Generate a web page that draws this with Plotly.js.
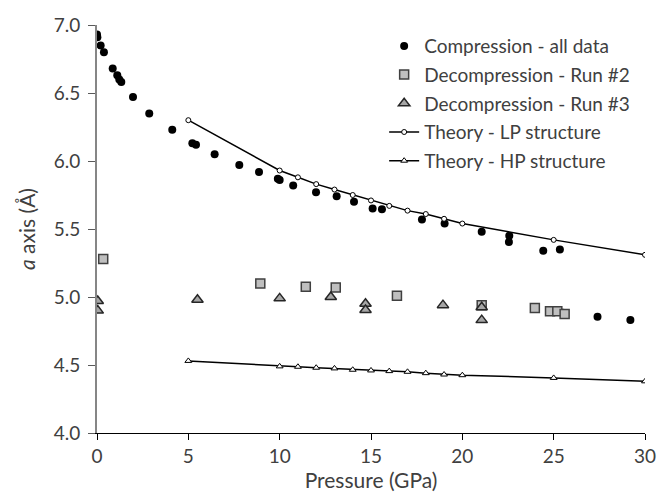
<!DOCTYPE html>
<html>
<head>
<meta charset="utf-8">
<script src="https://cdn.plot.ly/plotly-3.0.1.min.js"></script>
<style>html,body{margin:0;padding:0;background:#fff;}#chart{width:659px;height:497px;}</style>
</head>
<body>
<div id="chart"></div>
<script>
// Compression - all data
const compP = [0.0, 0.02, 0.2, 0.38, 0.86, 1.11, 1.22, 1.33, 1.97, 2.86, 4.12, 5.22, 5.42, 6.44, 7.79, 8.87, 9.9, 10.0, 10.74, 11.99, 13.12, 14.07, 15.09, 15.6, 17.79, 19.03, 21.06, 22.57, 22.55, 24.43, 25.34, 25.5, 27.4, 29.2];
const compA = [6.93, 6.91, 6.85, 6.80, 6.68, 6.63, 6.60, 6.58, 6.47, 6.35, 6.23, 6.13, 6.12, 6.05, 5.97, 5.92, 5.87, 5.86, 5.82, 5.77, 5.74, 5.70, 5.65, 5.645, 5.57, 5.54, 5.48, 5.45, 5.405, 5.34, 5.35, 4.885, 4.855, 4.83];
// Decompression - Run #2
const dec2P = [0.34, 8.94, 11.43, 13.07, 16.42, 21.06, 23.97, 24.8, 25.2, 25.6];
const dec2A = [5.28, 5.10, 5.076, 5.07, 5.01, 4.94, 4.92, 4.895, 4.895, 4.875];
// Decompression - Run #3
const dec3P = [0.04, 0.04, 5.5, 10.0, 12.8, 14.7, 14.7, 18.94, 21.06, 21.06];
const dec3A = [4.97, 4.90, 4.98, 4.99, 5.00, 4.95, 4.905, 4.94, 4.925, 4.83];
// Theory - LP structure
const lpP = [5, 10, 11, 12, 13, 14, 15, 16, 17, 18, 19, 20, 25, 30];
const lpA = [6.30, 5.93, 5.88, 5.83, 5.79, 5.75, 5.71, 5.67, 5.635, 5.61, 5.575, 5.54, 5.42, 5.31];
// Theory - HP structure
const hpP = [5, 10, 11, 12, 13, 14, 15, 16, 17, 18, 19, 20, 25, 30];
const hpA = [4.53, 4.49, 4.487, 4.48, 4.475, 4.465, 4.46, 4.455, 4.45, 4.44, 4.43, 4.425, 4.405, 4.38];

const FONT = 'Lato, "Liberation Sans", sans-serif';
const TXT = '#404040';

const traces = [
  {x: compP, y: compA, name: 'Compression - all data', type: 'scatter', mode: 'markers',
   marker: {symbol: 'circle', size: 8, color: '#000'}, legendgroup: 'a'},
  {x: dec2P, y: dec2A, name: 'Decompression - Run #2', type: 'scatter', mode: 'markers',
   marker: {symbol: 'square', size: 9, color: '#bfbfbf', line: {color: '#404040', width: 1.5}}, legendgroup: 'b'},
  {x: dec3P, y: dec3A, name: 'Decompression - Run #3', type: 'scatter', mode: 'markers',
   marker: {symbol: 'triangle-up', size: 10, color: '#a6a6a6', line: {color: '#262626', width: 1.5}}, legendgroup: 'c'},
  {x: lpP, y: lpA, name: 'Theory - LP structure', type: 'scatter', mode: 'lines+markers',
   line: {color: '#000', width: 1.5},
   marker: {symbol: 'circle', size: 5, color: '#fff', line: {color: '#000', width: 1}}, legendgroup: 'd'},
  {x: hpP, y: hpA, name: 'Theory - HP structure', type: 'scatter', mode: 'lines+markers',
   line: {color: '#000', width: 1.5},
   marker: {symbol: 'triangle-up', size: 6, color: '#fff', line: {color: '#000', width: 1}}, legendgroup: 'e'}
];

const layout = {
  width: 659, height: 497,
  margin: {l: 97, r: 14, t: 25, b: 64},
  paper_bgcolor: '#fff', plot_bgcolor: '#fff',
  font: {family: FONT, color: TXT, size: 19},
  showlegend: true,
  legend: {x: 0.524, y: 0.995, xanchor: 'left', yanchor: 'top', bgcolor: 'rgba(0,0,0,0)',
           font: {size: 19, color: TXT, family: FONT}, traceorder: 'grouped', tracegroupgap: 1, itemwidth: 30},
  xaxis: {range: [0, 30], dtick: 5, tick0: 0, showgrid: false, zeroline: false,
          showline: true, linecolor: '#000', linewidth: 1,
          ticks: 'outside', ticklen: 6, tickcolor: '#000',
          tickfont: {size: 19, color: TXT},
          title: {text: 'Pressure (GPa)', font: {size: 21, color: TXT}, standoff: 6}},
  yaxis: {range: [4, 7], dtick: 0.5, tick0: 4, tickformat: '.1f', showgrid: false, zeroline: false,
          showline: true, linecolor: '#868686', linewidth: 2,
          ticks: 'outside', ticklen: 7, tickcolor: '#595959', ticklabelstandoff: 4,
          tickfont: {size: 19, color: TXT},
          title: {text: '<i>a</i> axis (Å)', font: {size: 21, color: TXT}, standoff: 12}}
};

Plotly.newPlot('chart', traces, layout, {displayModeBar: false, staticPlot: true});
</script>
</body>
</html>
